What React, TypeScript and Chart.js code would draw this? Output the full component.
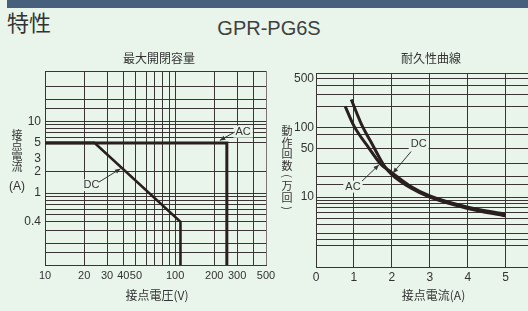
import React, { useEffect, useRef } from 'react';
import { Chart, registerables } from 'chart.js';

Chart.register(...registerables);

// ---------- 最大開閉容量 (left chart) ----------
const capVoltageGrid = [10, 20, 30, 40, 50, 60, 70, 80, 90, 100, 200, 300, 400, 500];
const capVoltageLabels = [10, 20, 30, 40, 50, 100, 200, 300, 500];
const capCurrentGrid = [0.1, 0.15, 0.2, 0.3, 0.4, 0.5, 0.6, 0.7, 0.8, 0.9, 1, 2, 3, 5, 6, 7, 8, 9, 10, 15, 20, 30, 50];
const capCurrentLabels = [0.4, 1, 2, 3, 5, 10];
const capCurrentNoLine = [3];
const acVoltage = [10, 250, 250];
const acCurrent = [5, 5, 0.1];
const dcVoltage = [10, 24, 110, 110];
const dcCurrent = [5, 5, 0.4, 0.1];

// ---------- 耐久性曲線 (right chart) ----------
const lifeCurrentGrid = [0, 1, 2, 3, 4, 5];
const lifeOpsGrid = [1, 2, 2.5, 3, 4, 5, 6, 7, 8, 9, 10, 15, 20, 30, 50, 80, 100, 200, 300, 400, 500, 600];
const lifeOpsLabels = [10, 50, 100, 500];
const dcLifeCurrent = [0.93, 1.2, 1.5, 1.8, 2.0, 2.5, 3, 4, 5];
const dcLifeOps = [250, 110, 55, 28, 21, 13.5, 10, 6.9, 5.4];
const acLifeCurrent = [0.77, 1.0, 1.4, 1.7, 2.0, 2.5, 3, 4, 5];
const acLifeOps = [200, 105, 50, 30, 22.5, 14.2, 10.4, 7.2, 5.7];

const SANS = '"Liberation Sans", Arial, sans-serif';
const CJK = '"Noto Sans CJK JP", "Noto Sans", sans-serif';
const BG = '#e9f5ea';
const INK = '#333333';
const GRID = '#3a3434';
const LINE = '#2a1f1f';

type Pt = { x: number; y: number };

function stack(ctx: CanvasRenderingContext2D, chars: string[], x: number, ys: number[]) {
  ctx.font = `11px ${CJK}`;
  ctx.textAlign = 'center';
  ctx.textBaseline = 'middle';
  chars.forEach((c, i) => {
    if (c === '(' || c === ')') {
      ctx.save();
      ctx.translate(x, ys[i]);
      ctx.rotate(Math.PI / 2);
      ctx.fillText(c, 0, 0);
      ctx.restore();
    } else {
      ctx.fillText(c, x, ys[i]);
    }
  });
}

function arrow(ctx: CanvasRenderingContext2D, a: Pt, b: Pt) {
  ctx.strokeStyle = INK;
  ctx.fillStyle = INK;
  ctx.lineWidth = 1;
  ctx.beginPath();
  ctx.moveTo(a.x, a.y);
  ctx.lineTo(b.x, b.y);
  ctx.stroke();
  const ang = Math.atan2(b.y - a.y, b.x - a.x);
  const L = 5.5, W = 2.3;
  ctx.beginPath();
  ctx.moveTo(b.x, b.y);
  ctx.lineTo(b.x - L * Math.cos(ang) + W * Math.sin(ang), b.y - L * Math.sin(ang) - W * Math.cos(ang));
  ctx.lineTo(b.x - L * Math.cos(ang) - W * Math.sin(ang), b.y - L * Math.sin(ang) + W * Math.cos(ang));
  ctx.closePath();
  ctx.fill();
}

function callout(ctx: CanvasRenderingContext2D, text: string, tip: Pt, start: Pt, textAt: Pt) {
  ctx.font = `11px ${SANS}`;
  const w = ctx.measureText(text).width;
  const cx = tip.x + textAt.x, cy = tip.y + textAt.y;
  ctx.fillStyle = BG;
  ctx.fillRect(cx - w / 2 - 2, cy - 6, w + 4, 12);
  arrow(ctx, { x: tip.x + start.x, y: tip.y + start.y }, tip);
  ctx.fillStyle = INK;
  ctx.textAlign = 'center';
  ctx.textBaseline = 'middle';
  ctx.fillText(text, cx, cy);
}

const tickFont = { family: SANS, size: 12 };
const leftXFont = { family: SANS, size: 11 };

function resetPad(s: any) {
  s.paddingLeft = 0;
  s.paddingRight = 0;
  s.paddingTop = 0;
  s.paddingBottom = 0;
}

export default function App() {
  const leftRef = useRef<HTMLCanvasElement>(null);
  const rightRef = useRef<HTMLCanvasElement>(null);

  useEffect(() => {
    const leftOverlay = {
      id: 'leftOverlay',
      afterDraw(chart: any) {
        const ctx: CanvasRenderingContext2D = chart.ctx;
        const xs = chart.scales.x, ys = chart.scales.y;
        ctx.save();
        ctx.fillStyle = INK;
        ctx.textAlign = 'center';
        ctx.textBaseline = 'middle';
        ctx.font = `12px ${CJK}`;
        ctx.fillText('最大開閉容量', 159, 58);
        ctx.fillText('接点電圧(V)', 157, 295);
        stack(ctx, ['接', '点', '電', '流'], 17, [134.5, 145, 156, 166.5]);
        ctx.font = `12px ${SANS}`;
        ctx.fillText('(A)', 17, 187);
        const acTip = { x: xs.getPixelForValue(acVoltage[1]) - 7, y: ys.getPixelForValue(acCurrent[1]) - 2.5 };
        callout(ctx, 'AC', acTip, { x: 15, y: -8.4 }, { x: 23.3, y: -8.7 });
        const p1 = { x: xs.getPixelForValue(dcVoltage[1]), y: ys.getPixelForValue(dcCurrent[1]) };
        const p2 = { x: xs.getPixelForValue(dcVoltage[2]), y: ys.getPixelForValue(dcCurrent[2]) };
        const t = 0.315;
        const dcTip = { x: p1.x + (p2.x - p1.x) * t - 1, y: p1.y + (p2.y - p1.y) * t + 1 };
        callout(ctx, 'DC', dcTip, { x: -21.7, y: 13.4 }, { x: -29, y: 16.5 });
        ctx.restore();
      },
    };

    const rightOverlay = {
      id: 'rightOverlay',
      afterDraw(chart: any) {
        const ctx: CanvasRenderingContext2D = chart.ctx;
        ctx.save();
        ctx.fillStyle = INK;
        ctx.textAlign = 'center';
        ctx.textBaseline = 'middle';
        ctx.font = `12px ${CJK}`;
        ctx.fillText('耐久性曲線', 161, 58);
        ctx.fillText('接点電流(A)', 163.5, 295);
        stack(ctx, ['動', '作', '回', '数', '(', '万', '回', ')'], 17, [131, 142.5, 154, 165.5, 176, 186, 197.5, 208]);
        const dcEl = chart.getDatasetMeta(0).data[4];
        const acEl = chart.getDatasetMeta(1).data[3];
        callout(ctx, 'DC', { x: dcEl.x + 1, y: dcEl.y - 1.5 }, { x: 18.3, y: -21.7 }, { x: 25.8, y: -29 });
        callout(ctx, 'AC', { x: acEl.x - 1.5, y: acEl.y + 1 }, { x: -17, y: 16.3 }, { x: -26, y: 21.8 });
        ctx.restore();
      },
    };

    const left = new Chart(leftRef.current as HTMLCanvasElement, {
      type: 'line',
      data: {
        datasets: [
          {
            label: 'AC',
            data: acVoltage.map((v, i) => ({ x: v, y: acCurrent[i] })),
            borderColor: LINE,
            borderWidth: 3,
            pointRadius: 0,
            fill: false,
            tension: 0,
            borderJoinStyle: 'miter',
          },
          {
            label: 'DC',
            data: dcVoltage.map((v, i) => ({ x: v, y: dcCurrent[i] })),
            borderColor: LINE,
            borderWidth: 2.6,
            pointRadius: 0,
            fill: false,
            tension: 0,
            borderJoinStyle: 'miter',
          },
        ],
      } as any,
      options: {
        responsive: false,
        animation: false,
        events: [],
        layout: { padding: { left: 0, top: 71, right: 14, bottom: 0 } },
        plugins: { legend: { display: false }, tooltip: { enabled: false }, title: { display: false } },
        scales: {
          x: {
            type: 'logarithmic',
            min: 10,
            max: 500,
            afterBuildTicks: (s: any) => {
              s.ticks = capVoltageGrid.map((v) => ({ value: v }));
            },
            afterFit: (s: any) => {
              s.height = 46;
              resetPad(s);
            },
            ticks: {
              autoSkip: false,
              maxRotation: 0,
              padding: 4,
              font: leftXFont,
              color: INK,
              callback: (v: any) => (capVoltageLabels.indexOf(Number(v)) >= 0 ? String(v) : ''),
            },
            grid: {
              color: (c: any) => (c.tick && c.tick.value === 500 ? '#7a7676' : GRID),
              lineWidth: 1,
              drawTicks: false,
            },
            border: { color: GRID, width: 1 },
          },
          y: {
            type: 'logarithmic',
            min: 0.1,
            max: 50,
            afterBuildTicks: (s: any) => {
              s.ticks = capCurrentGrid.map((v) => ({ value: v }));
            },
            afterFit: (s: any) => {
              s.width = 45;
              resetPad(s);
            },
            ticks: {
              autoSkip: false,
              padding: 4,
              font: tickFont,
              color: INK,
              callback: (v: any) => (capCurrentLabels.indexOf(Number(v)) >= 0 ? String(v) : ''),
            },
            grid: {
              color: (c: any) => (c.tick && capCurrentNoLine.indexOf(c.tick.value) >= 0 ? 'rgba(0,0,0,0)' : GRID),
              lineWidth: 1,
              drawTicks: false,
            },
            border: { color: GRID, width: 1 },
          },
        },
      } as any,
      plugins: [leftOverlay],
    });

    const right = new Chart(rightRef.current as HTMLCanvasElement, {
      type: 'line',
      data: {
        datasets: [
          {
            label: 'DC',
            data: dcLifeCurrent.map((v, i) => ({ x: v, y: dcLifeOps[i] })),
            borderColor: LINE,
            borderWidth: 3,
            pointRadius: 0,
            fill: false,
            cubicInterpolationMode: 'monotone',
          },
          {
            label: 'AC',
            data: acLifeCurrent.map((v, i) => ({ x: v, y: acLifeOps[i] })),
            borderColor: LINE,
            borderWidth: 3,
            pointRadius: 0,
            fill: false,
            cubicInterpolationMode: 'monotone',
          },
        ],
      } as any,
      options: {
        responsive: false,
        animation: false,
        events: [],
        layout: { padding: { left: 0, top: 73, right: 4, bottom: 0 } },
        plugins: { legend: { display: false }, tooltip: { enabled: false }, title: { display: false } },
        scales: {
          x: {
            type: 'linear',
            min: 0,
            max: 5.8,
            afterBuildTicks: (s: any) => {
              s.ticks = lifeCurrentGrid.map((v) => ({ value: v }));
            },
            afterFit: (s: any) => {
              s.height = 44;
              resetPad(s);
            },
            ticks: {
              autoSkip: false,
              maxRotation: 0,
              padding: 3,
              font: tickFont,
              color: INK,
              callback: (v: any) => String(v),
            },
            grid: { color: GRID, lineWidth: 1, drawTicks: false },
            border: { color: GRID, width: 1 },
          },
          y: {
            type: 'logarithmic',
            min: 1,
            max: 600,
            afterBuildTicks: (s: any) => {
              s.ticks = lifeOpsGrid.map((v) => ({ value: v }));
            },
            afterFit: (s: any) => {
              s.width = 46;
              resetPad(s);
            },
            ticks: {
              autoSkip: false,
              padding: 2,
              font: tickFont,
              color: INK,
              callback: (v: any) => (lifeOpsLabels.indexOf(Number(v)) >= 0 ? String(v) : ''),
            },
            grid: { color: GRID, lineWidth: 1, drawTicks: false },
            border: { color: GRID, width: 1 },
          },
        },
      } as any,
      plugins: [rightOverlay],
    });

    return () => {
      left.destroy();
      right.destroy();
    };
  }, []);

  return (
    <div
      style={{
        position: 'fixed',
        left: 0,
        top: 0,
        width: 528,
        height: 311,
        overflow: 'hidden',
        background: BG,
      }}
    >
      <div style={{ position: 'absolute', left: 7, top: 0, width: 521, height: 8, background: '#47607c' }} />
      <div
        style={{
          position: 'absolute',
          left: 7,
          top: 10,
          fontFamily: CJK,
          fontSize: 22,
          lineHeight: '22px',
          color: '#333',
          whiteSpace: 'nowrap',
        }}
      >
        特性
      </div>
      <div
        style={{
          position: 'absolute',
          left: 269,
          top: 18,
          transform: 'translateX(-50%)',
          fontFamily: SANS,
          fontSize: 20,
          lineHeight: '20px',
          color: '#404040',
          whiteSpace: 'nowrap',
        }}
      >
        GPR-PG6S
      </div>
      <canvas ref={leftRef} width={280} height={311} style={{ position: 'absolute', left: 0, top: 0 }} />
      <canvas ref={rightRef} width={270} height={311} style={{ position: 'absolute', left: 270, top: 0 }} />
    </div>
  );
}
